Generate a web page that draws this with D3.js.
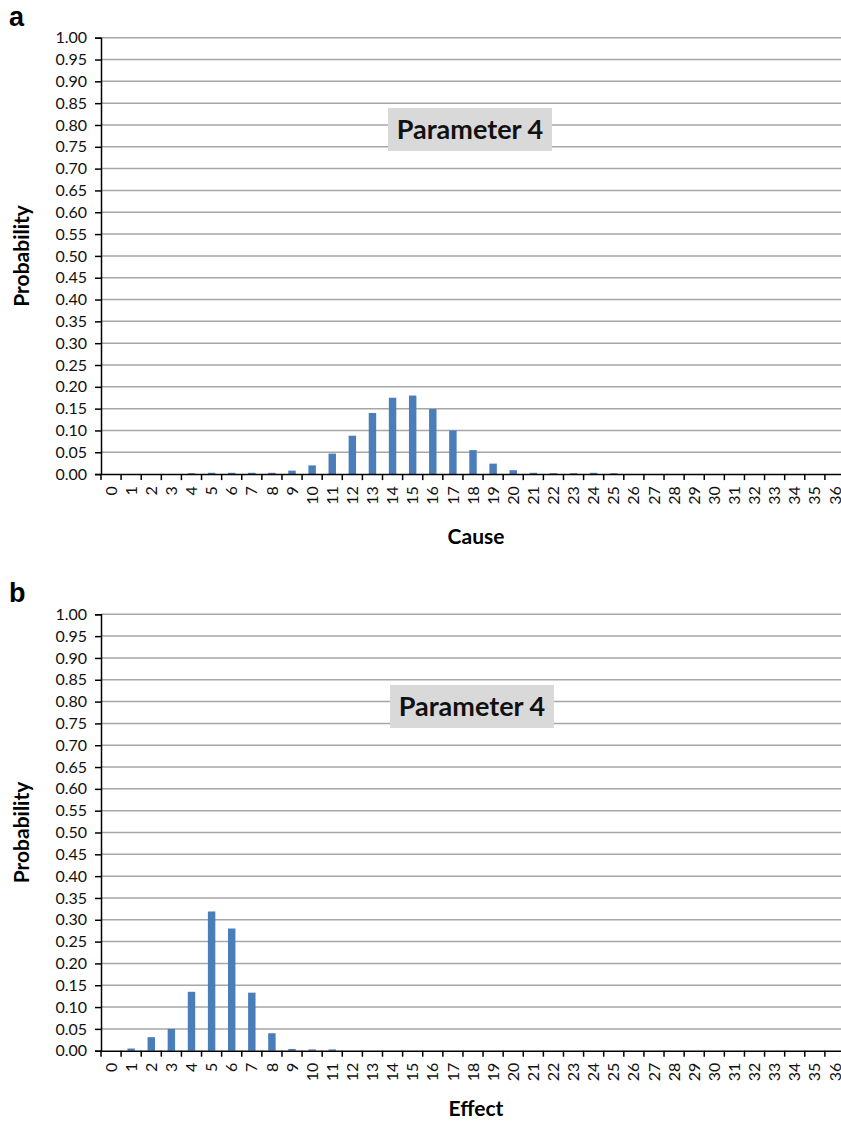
<!DOCTYPE html>
<html>
<head>
<meta charset="utf-8">
<script src="https://cdn.jsdelivr.net/npm/d3@7"></script>
<style>
  body { margin: 0; background: #fff; }
  svg { display: block; }
</style>
</head>
<body>
<svg id="chart"></svg>
<script>
// categories on the x axis
const categories = ["0","1","2","3","4","5","6","7","8","9","10","11","12","13","14","15","16","17","18",
  "19","20","21","22","23","24","25","26","27","28","29","30","31","32","33","34","35","36"];

// y axis ticks
const yTicks = [0, 0.05, 0.10, 0.15, 0.20, 0.25, 0.30, 0.35, 0.40, 0.45, 0.50,
  0.55, 0.60, 0.65, 0.70, 0.75, 0.80, 0.85, 0.90, 0.95, 1.00];

// panel a - cause distribution
const causeValues = [0, 0, 0, 0, 0.002, 0.003, 0.003, 0.003, 0.003, 0.008, 0.020, 0.047, 0.088, 0.140,
  0.175, 0.180, 0.149, 0.100, 0.055, 0.024, 0.009, 0.003, 0.002, 0.002, 0.003, 0.002,
  0, 0, 0, 0, 0, 0, 0, 0, 0, 0, 0];

// panel b - effect distribution
const effectValues = [0, 0.005, 0.031, 0.050, 0.135, 0.319, 0.280, 0.133, 0.040, 0.004, 0.003, 0.003,
  0, 0, 0, 0, 0, 0, 0, 0, 0, 0, 0, 0, 0, 0, 0, 0, 0, 0, 0, 0, 0, 0, 0, 0, 0];

const W = 841, H = 1123;
const svg = d3.select("#chart").attr("width", W).attr("height", H);

const fontFam = "Lato, 'Open Sans', sans-serif";

function drawPanel(top, letter, values, xTitle, titleOffset, boxX, boxY) {
  const left = 101, right = 845;
  const plotTop = top, plotBottom = top + 436.4;

  const x = d3.scaleBand().domain(categories).range([left, right]).paddingInner(0.63).paddingOuter(0.315);
  const xEdge = d3.scaleBand().domain(categories).range([left, right]);
  const y = d3.scaleLinear().domain([0, 1]).range([plotBottom, plotTop]);

  const g = svg.append("g");

  // panel letter
  g.append("text")
    .attr("x", 9).attr("y", top - 12)
    .style("font-family", "'Liberation Sans', Arial, sans-serif")
    .style("font-weight", "bold")
    .style("font-size", "27px")
    .text(letter);

  // gridlines
  g.append("g")
    .selectAll("line")
    .data(yTicks.filter(d => d > 0))
    .join("line")
    .attr("x1", left).attr("x2", W)
    .attr("y1", d => y(d)).attr("y2", d => y(d))
    .attr("stroke", "#a6a6a6")
    .attr("stroke-width", 1.5);

  // y axis
  const yAxis = g.append("g")
    .attr("transform", `translate(${left},0)`)
    .call(d3.axisLeft(y).tickValues(yTicks).tickFormat(d3.format(".2f")).tickSize(6).tickPadding(8));
  yAxis.select(".domain").attr("stroke", "#000").attr("stroke-width", 1.5);
  yAxis.selectAll(".tick line").attr("stroke", "#000").attr("stroke-width", 1.5);
  yAxis.selectAll("text")
    .style("font-family", fontFam)
    .style("font-size", "16px")
    .attr("fill", "#111");

  // bars
  g.append("g")
    .selectAll("rect")
    .data(values.map((v, i) => ({cat: categories[i], v: v})))
    .join("rect")
    .attr("x", d => x(d.cat))
    .attr("width", x.bandwidth())
    .attr("y", d => y(d.v))
    .attr("height", d => plotBottom - y(d.v))
    .attr("fill", "#4a7ebb");

  // x axis
  const xAxis = g.append("g")
    .attr("transform", `translate(0,${plotBottom})`)
    .call(d3.axisBottom(xEdge).tickSize(0).tickPadding(0));
  xAxis.select(".domain").attr("stroke", "#000").attr("stroke-width", 1.5);
  xAxis.selectAll(".tick text")
    .attr("transform", "rotate(-90)")
    .attr("text-anchor", "end")
    .attr("x", -12)
    .attr("y", 0)
    .attr("dy", "0.35em")
    .style("font-family", fontFam)
    .style("font-size", "16px")
    .attr("fill", "#111");
  // tick marks at category boundaries
  g.append("g")
    .selectAll("line")
    .data(categories)
    .join("line")
    .attr("x1", d => xEdge(d)).attr("x2", d => xEdge(d))
    .attr("y1", plotBottom).attr("y2", plotBottom + 6)
    .attr("stroke", "#000")
    .attr("stroke-width", 1.5);

  // y title
  g.append("text")
    .attr("transform", `translate(29,${(plotTop + plotBottom) / 2}) rotate(-90)`)
    .attr("text-anchor", "middle")
    .style("font-family", fontFam)
    .style("font-weight", "bold")
    .style("font-size", "21px")
    .text("Probability");

  // x title
  g.append("text")
    .attr("x", 476).attr("y", plotBottom + titleOffset)
    .attr("text-anchor", "middle")
    .style("font-family", fontFam)
    .style("font-weight", "bold")
    .style("font-size", "21px")
    .text(xTitle);

  // parameter label box
  g.append("rect")
    .attr("x", boxX).attr("y", boxY)
    .attr("width", 164).attr("height", 43)
    .attr("fill", "#d9d9d9");
  g.append("text")
    .attr("x", boxX + 82).attr("y", boxY + 31)
    .attr("text-anchor", "middle")
    .style("font-family", fontFam)
    .style("font-weight", "bold")
    .style("font-size", "27px")
    .attr("fill", "#111")
    .text("Parameter 4");
}

drawPanel(37.7, "a", causeValues, "Cause", 70, 388, 108);
drawPanel(614.3, "b", effectValues, "Effect", 65, 390, 685);
</script>
</body>
</html>
